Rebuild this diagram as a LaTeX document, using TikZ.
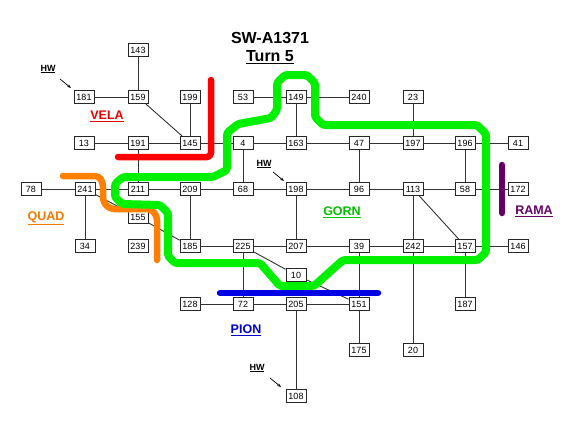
\documentclass[tikz,border=0pt]{standalone}
\usepackage{fontspec}
\setmainfont{Liberation Sans}
\usetikzlibrary{arrows.meta}

\begin{document}
\begin{tikzpicture}[x=1pt, y=-1pt, >={Stealth[length=4pt,width=3pt]}]
\tikzstyle{sys} = [rectangle, minimum width=20pt, minimum height=13pt, inner sep=1pt, text centered, draw=black!85, line width=0.9pt, fill=white, font=\fontsize{9}{10}\selectfont]
\tikzstyle{link} = [draw=black!80, line width=0.9pt]
\tikzstyle{zone} = [line width=6.5pt, line cap=round, line join=round, rounded corners=4pt]
\tikzstyle{region} = [font=\fontsize{12.5}{14}\selectfont\bfseries]
\tikzstyle{hw} = [font=\fontsize{9}{10}\selectfont\bfseries]

\useasboundingbox (0,0) rectangle (576,445);

% Title
\node (title) [font=\fontsize{16}{18}\selectfont\bfseries] at (270,38) {SW-A1371};
\node (turn) [font=\fontsize{16}{18}\selectfont\bfseries] at (270,57) {\underline{Turn 5}};

% Systems
\node (s143) [sys] at (138,50) {143};

\node (s181) [sys] at (84,97) {181};
\node (s159) [sys] at (138,97) {159};
\node (s199) [sys] at (190,97) {199};
\node (s53) [sys] at (243,97) {53};
\node (s149) [sys] at (296,97) {149};
\node (s240) [sys] at (359,97) {240};
\node (s23) [sys] at (413,97) {23};

\node (s13) [sys] at (84,143) {13};
\node (s191) [sys] at (138,143) {191};
\node (s145) [sys] at (190,143) {145};
\node (s4) [sys] at (243,143) {4};
\node (s163) [sys] at (296,143) {163};
\node (s47) [sys] at (359,143) {47};
\node (s197) [sys] at (413,143) {197};
\node (s196) [sys] at (465,143) {196};
\node (s41) [sys] at (518,143) {41};

\node (s78) [sys] at (31,189) {78};
\node (s241) [sys] at (85,189) {241};
\node (s211) [sys] at (138,189) {211};
\node (s209) [sys] at (190,189) {209};
\node (s68) [sys] at (243,189) {68};
\node (s198) [sys] at (296,189) {198};
\node (s96) [sys] at (359,189) {96};
\node (s113) [sys] at (413,189) {113};
\node (s58) [sys] at (465,189) {58};
\node (s172) [sys] at (518,189) {172};

\node (s155) [sys] at (138,217) {155};

\node (s34) [sys] at (85,246) {34};
\node (s239) [sys] at (138,246) {239};
\node (s185) [sys] at (190,246) {185};
\node (s225) [sys] at (243,246) {225};
\node (s207) [sys] at (296,246) {207};
\node (s39) [sys] at (359,246) {39};
\node (s242) [sys] at (413,246) {242};
\node (s157) [sys] at (465,246) {157};
\node (s146) [sys] at (518,246) {146};

\node (s10) [sys] at (296,275) {10};

\node (s128) [sys] at (190,304) {128};
\node (s72) [sys] at (243,304) {72};
\node (s205) [sys] at (296,304) {205};
\node (s151) [sys] at (359,304) {151};
\node (s187) [sys] at (465,304) {187};

\node (s175) [sys] at (359,350) {175};
\node (s20) [sys] at (413,350) {20};

\node (s108) [sys] at (296,396) {108};

% Lanes
\draw [link] (s143) -- (s159);
\draw [link] (s181) -- (s159);
\draw [link] (s159) -- (s145);
\draw [link] (s199) -- (s145);
\draw [link] (s53) -- (s149);
\draw [link] (s149) -- (s240);
\draw [link] (s149) -- (s163);
\draw [link] (s23) -- (s197);

\draw [link] (s13) -- (s191);
\draw [link] (s191) -- (s145);
\draw [link] (s145) -- (s4);
\draw [link] (s4) -- (s163);
\draw [link] (s163) -- (s47);
\draw [link] (s47) -- (s197);
\draw [link] (s197) -- (s196);
\draw [link] (s196) -- (s41);

\draw [link] (s191) -- (s211);
\draw [link] (s4) -- (s68);
\draw [link] (s47) -- (s96);
\draw [link] (s196) -- (s58);

\draw [link] (s78) -- (s241);
\draw [link] (s241) -- (s211);
\draw [link] (s211) -- (s209);
\draw [link] (s209) -- (s68);
\draw [link] (s68) -- (s198);
\draw [link] (s198) -- (s96);
\draw [link] (s96) -- (s113);
\draw [link] (s113) -- (s58);
\draw [link] (s58) -- (s172);

\draw [link] (s241) -- (s34);
\draw [link] (s241) -- (s155);
\draw [link] (s155) -- (s185);
\draw [link] (s209) -- (s185);
\draw [link] (s198) -- (s207);
\draw [link] (s113) -- (s242);
\draw [link] (s113) -- (s157);

\draw [link] (s185) -- (s225);
\draw [link] (s225) -- (s207);
\draw [link] (s207) -- (s39);
\draw [link] (s39) -- (s242);
\draw [link] (s242) -- (s157);
\draw [link] (s157) -- (s146);

\draw [link] (s225) -- (s10);
\draw [link] (s10) -- (s151);
\draw [link] (s225) -- (s72);
\draw [link] (s39) -- (s151);
\draw [link] (s242) -- (s20);
\draw [link] (s157) -- (s187);

\draw [link] (s128) -- (s72);
\draw [link] (s72) -- (s205);
\draw [link] (s205) -- (s151);
\draw [link] (s205) -- (s108);
\draw [link] (s151) -- (s175);

% Home worlds
\node (hw1) [hw] at (48,69) {\underline{HW}};
\node (hw2) [hw] at (264,164) {\underline{HW}};
\node (hw3) [hw] at (257,368) {\underline{HW}};
\coordinate (tail1) at (60,79);
\coordinate (tip1) at (71,88);
\coordinate (tail2) at (273,172);
\coordinate (tip2) at (284,181);
\coordinate (tail3) at (270,378);
\coordinate (tip3) at (281,387);
\draw [->, line width=0.7pt] (tail1) -- (tip1);
\draw [->, line width=0.7pt] (tail2) -- (tip2);
\draw [->, line width=0.7pt] (tail3) -- (tip3);

% Borders
\draw [zone, red] (211,80) -- (211,157) -- (118,157);
\draw [zone, orange] (63,176) -- (99,176) -- (103,183) -- (103,202) -- (110,209) -- (151,209) -- (157,216) -- (157,260);
\draw [zone, line width=8pt, rounded corners=2.5pt, green!90!black!60!green] (285,75) -- (307,75) -- (315,83) -- (315,117) -- (323,125) -- (477,125) -- (486,134) -- (486,252) -- (478,260) -- (343,260) -- (314,286) -- (280,286) -- (260,263) -- (175,263) -- (168,256) -- (168,213) -- (160,205) -- (122,204) -- (115,197) -- (115,184) -- (123,177) -- (213,177) -- (227,170) -- (227,133) -- (238,124) -- (271,118) -- (277,110) -- (277,83) -- cycle;
\draw [zone, blue!90!black] (220,293) -- (378,293);
\draw [zone, violet!80!black] (502,165) -- (502,213);

% Empires
\node (vela) [region, red!90!black] at (107,116) {\underline{VELA}};
\node (quad) [region, orange!95!black] at (46,218) {\underline{QUAD}};
\node (gorn) [region, green!75!black] at (342,212) {\underline{GORN}};
\node (rama) [region, violet!80!black] at (534,211) {\underline{RAMA}};
\node (pion) [region, blue!80!black] at (246,330) {\underline{PION}};
\end{tikzpicture}
\end{document}
